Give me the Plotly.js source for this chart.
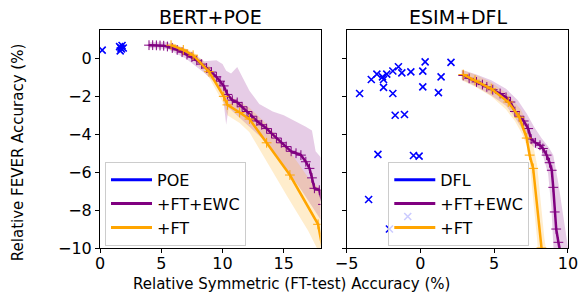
<!DOCTYPE html>
<html>
<head>
<meta charset="utf-8">
<script src="https://cdn.plot.ly/plotly-3.0.1.min.js"></script>
<style>html,body{margin:0;padding:0;background:#fff;}#chart{width:583px;height:293px;}</style>
</head>
<body>
<div id="chart"></div>
<script>
// ---------- BERT+POE (left) ----------
const poeX = [0.18, 1.6, 1.75, 1.9, 1.65, 1.8, 1.7];
const poeY = [0.44, 0.62, 0.5, 0.55, 0.4, 0.68, 0.55];

const bertEwcX = [4.0, 4.3, 4.6, 4.9, 5.2, 5.5, 5.9, 6.3, 6.7, 7.1, 7.5, 7.9, 8.3, 8.7, 9.1, 9.5, 9.8, 10.1, 10.4, 10.8, 11.2, 11.6, 12.0, 12.4, 12.8, 13.2, 13.6, 14.0, 14.4, 14.8, 15.2, 15.6, 16.0, 16.4, 16.8, 17.1, 17.3, 17.5, 17.9, 18.2];
const bertEwcY = [0.70, 0.70, 0.69, 0.68, 0.67, 0.63, 0.55, 0.45, 0.33, 0.20, 0.07, -0.10, -0.30, -0.50, -0.72, -0.97, -1.20, -1.45, -1.90, -2.20, -2.32, -2.55, -2.80, -3.05, -3.30, -3.50, -3.70, -3.95, -4.20, -4.45, -4.65, -4.90, -5.00, -5.10, -5.45, -5.80, -6.30, -6.85, -6.95, -7.70];
const bertEwcUpX = [4.0, 5.5, 7.0, 8.5, 9.5, 10.0, 10.3, 10.7, 11.2, 12.2, 13.0, 14.1, 15.0, 15.8, 16.8, 17.3, 17.6, 18.0, 18.3];
const bertEwcUpY = [0.85, 0.85, 0.5, -0.15, -0.1, -0.3, -0.65, -0.8, -0.45, -1.7, -2.4, -2.8, -3.0, -3.25, -3.6, -3.8, -4.9, -5.2, -5.5];
const bertEwcLoX = [4.0, 5.5, 7.0, 8.5, 9.5, 10.0, 10.3, 10.5, 11.0, 12.2, 13.2, 14.2, 15.5, 16.5, 17.2, 18.0, 18.3];
const bertEwcLoY = [0.55, 0.5, 0.0, -0.75, -1.35, -1.8, -3.5, -2.6, -2.9, -3.6, -4.2, -5.0, -6.1, -7.0, -7.7, -8.5, -8.8];

const bertFtX = [5.8, 6.8, 7.6, 8.9, 10.1, 10.4, 11.4, 12.2, 13.6, 15.5, 17.8, 18.3];
const bertFtY = [0.70, 0.45, 0.17, -0.70, -2.00, -2.45, -2.85, -3.20, -4.45, -6.15, -8.75, -10.5];
const bertFtUpX = [5.8, 7.6, 8.9, 10.1, 10.4, 11.4, 12.2, 13.5, 15.5, 17.0, 18.0, 18.3];
const bertFtUpY = [0.85, 0.35, -0.4, -1.6, -1.9, -2.3, -2.6, -3.4, -4.9, -6.3, -6.9, -7.2];
const bertFtLoX = [5.8, 7.6, 8.9, 10.1, 10.4, 11.4, 12.2, 13.4, 15.3, 17.0, 17.7, 18.3];
const bertFtLoY = [0.5, -0.05, -1.0, -2.4, -3.0, -3.4, -3.9, -5.2, -7.3, -9.1, -10.0, -10.8];

// ---------- ESIM+DFL (right) ----------
const dflX = [-4.12, -3.33, -2.95, -2.57, -2.5, -2.28, -1.87, -1.49, -1.26, -0.65, 0.16, 0.32, 2.07, 1.4, 1.22, 0.16, -2.5, -1.87, -1.71, -1.08, -2.88, -0.47, -0.09, -3.51, -0.86, -2.1];
const dflY = [-1.85, -1.11, -0.83, -0.97, -1.11, -0.83, -0.66, -0.44, -0.76, -0.71, -0.67, -0.18, -0.21, -0.97, -1.8, -1.5, -1.53, -1.85, -3.0, -2.96, -5.06, -5.12, -5.15, -7.44, -8.34, -9.0];

const esimEwcX = [2.9, 3.3, 3.8, 4.2, 4.5, 4.9, 5.4, 5.8, 6.1, 6.4, 6.7, 7.0, 7.3, 7.5, 7.8, 8.1, 8.3, 8.55, 8.75, 8.9, 9.0, 9.1, 9.2, 9.35, 9.5];
const esimEwcY = [-0.9, -1.05, -1.24, -1.38, -1.5, -1.65, -1.85, -2.05, -2.3, -2.8, -3.05, -3.3, -3.7, -4.25, -4.45, -4.58, -4.75, -5.1, -5.5, -5.9, -6.8, -8.1, -9.0, -9.7, -10.3];
const esimEwcUpX = [2.8, 3.8, 4.8, 5.8, 6.6, 7.2, 7.7, 8.2, 8.7, 9.0, 9.35, 9.9, 10.1];
const esimEwcUpY = [-0.6, -0.85, -1.15, -1.6, -2.2, -2.9, -3.6, -4.2, -4.7, -5.1, -6.6, -9.6, -10.5];
const esimEwcLoX = [2.8, 3.8, 4.8, 5.8, 6.3, 6.8, 7.3, 7.7, 8.2, 8.65, 8.87, 8.99, 9.05];
const esimEwcLoY = [-1.1, -1.5, -1.95, -2.5, -3.0, -3.6, -4.4, -4.7, -4.85, -6.07, -7.85, -9.6, -10.5];

const esimFtX = [2.9, 3.7, 4.8, 5.95, 6.7, 7.2, 7.4, 7.64, 8.2, 8.3];
const esimFtY = [-0.85, -1.15, -1.6, -2.3, -3.1, -4.2, -5.1, -5.8, -10.0, -10.7];
const esimFtUpX = [2.8, 3.7, 4.8, 5.95, 6.8, 7.3, 7.6, 7.9, 8.4, 8.6];
const esimFtUpY = [-0.6, -0.85, -1.25, -1.9, -2.7, -3.5, -4.4, -5.6, -9.5, -10.5];
const esimFtLoX = [2.8, 3.7, 4.8, 5.8, 6.4, 6.9, 7.2, 7.4, 7.9, 8.0];
const esimFtLoY = [-1.15, -1.5, -2.0, -2.7, -3.3, -4.0, -4.6, -5.5, -9.5, -10.5];

// ---------- labels ----------
const panelTitles = ["BERT+POE", "ESIM+DFL"];
const legendLeft = ["POE", "+FT+EWC", "+FT"];
const legendRight = ["DFL", "+FT+EWC", "+FT"];
const xTicksLeft = [0, 5, 10, 15];
const xTicksRight = [-5, 0, 5, 10];
const yTicks = [0, -2, -4, -6, -8, -10];
const xAxisTitle = "Relative Symmetric (FT-test) Accuracy (%)";
const yAxisTitle = "Relative FEVER Accuracy (%)";

const BLUE = "#0000ff", PURPLE = "#800080", ORANGE = "#ffa500";
const PURPLE_F = "rgba(128,0,128,0.2)", ORANGE_F = "rgba(255,165,0,0.2)";

function band(upX, upY, loX, loY, color, xa, ya) {
  return {
    x: upX.concat(loX.slice().reverse()),
    y: upY.concat(loY.slice().reverse()),
    xaxis: xa, yaxis: ya, type: "scatter", mode: "lines",
    fill: "toself", fillcolor: color, line: {width: 0, color: "rgba(0,0,0,0)"},
    hoverinfo: "skip", showlegend: false
  };
}
function curve(x, y, color, xa, ya) {
  return {
    x: x, y: y, xaxis: xa, yaxis: ya, type: "scatter", mode: "lines+markers",
    line: {color: color, width: 2.5},
    marker: {symbol: "cross-thin-open", size: 7, color: color, line: {color: color, width: 1}},
    showlegend: false
  };
}
function scat(x, y, xa, ya) {
  return {
    x: x, y: y, xaxis: xa, yaxis: ya, type: "scatter", mode: "markers",
    marker: {symbol: "x-thin-open", size: 7, color: BLUE, line: {color: BLUE, width: 1.6}},
    showlegend: false
  };
}
function legItem(name, color, leg, xa, ya) {
  return {
    x: [null], y: [null], xaxis: xa, yaxis: ya, type: "scatter", mode: "lines",
    name: name, line: {color: color, width: 3}, legend: leg, showlegend: true
  };
}

const data = [
  band(bertEwcUpX, bertEwcUpY, bertEwcLoX, bertEwcLoY, PURPLE_F, "x", "y"),
  band(bertFtUpX, bertFtUpY, bertFtLoX, bertFtLoY, ORANGE_F, "x", "y"),
  scat(poeX, poeY, "x", "y"),
  curve(bertEwcX, bertEwcY, PURPLE, "x", "y"),
  curve(bertFtX, bertFtY, ORANGE, "x", "y"),
  band(esimEwcUpX, esimEwcUpY, esimEwcLoX, esimEwcLoY, PURPLE_F, "x2", "y2"),
  band(esimFtUpX, esimFtUpY, esimFtLoX, esimFtLoY, ORANGE_F, "x2", "y2"),
  scat(dflX, dflY, "x2", "y2"),
  curve(esimEwcX, esimEwcY, PURPLE, "x2", "y2"),
  curve(esimFtX, esimFtY, ORANGE, "x2", "y2"),
  legItem(legendLeft[0], BLUE, "legend", "x", "y"),
  legItem(legendLeft[1], PURPLE, "legend", "x", "y"),
  legItem(legendLeft[2], ORANGE, "legend", "x", "y"),
  legItem(legendRight[0], BLUE, "legend2", "x2", "y2"),
  legItem(legendRight[1], PURPLE, "legend2", "x2", "y2"),
  legItem(legendRight[2], ORANGE, "legend2", "x2", "y2")
];

const FONT = "DejaVu Sans, sans-serif";
const axisCommon = {
  showgrid: false, zeroline: false, showline: true, linecolor: "#000", linewidth: 1,
  mirror: true, ticks: "outside", ticklen: 4, tickwidth: 1, tickcolor: "#000",
  tickfont: {family: FONT, size: 16, color: "#000"}
};
const legCommon = {
  font: {family: FONT, size: 16, color: "#000"},
  bgcolor: "rgba(255,255,255,0.8)", bordercolor: "#cccccc", borderwidth: 1,
  xanchor: "left", yanchor: "top", itemwidth: 41, traceorder: "normal"
};

const layout = {
  width: 583, height: 293,
  margin: {l: 100, r: 15, t: 30, b: 45},
  paper_bgcolor: "#fff", plot_bgcolor: "#fff",
  font: {family: FONT, color: "#000"},
  xaxis: Object.assign({}, axisCommon, {domain: [0, 0.4712], range: [0, 18], tickvals: xTicksLeft, anchor: "y", ticklabelstandoff: -3}),
  yaxis: Object.assign({}, axisCommon, {range: [-10, 1.5], tickvals: yTicks, anchor: "x"}),
  xaxis2: Object.assign({}, axisCommon, {domain: [0.527, 1], range: [-5, 10], tickvals: xTicksRight, anchor: "y2", ticklabelstandoff: -3}),
  yaxis2: Object.assign({}, axisCommon, {range: [-10, 1.5], tickvals: yTicks, anchor: "x2", matches: "y", showticklabels: false}),
  legend: Object.assign({}, legCommon, {x: 0.0107, y: 0.395}),
  legend2: Object.assign({}, legCommon, {x: 0.616, y: 0.395}),
  annotations: [
    {text: panelTitles[0], xref: "paper", yref: "paper", x: 0.2356, y: 1, xanchor: "center", yanchor: "bottom", yshift: 0, showarrow: false, font: {family: FONT, size: 19, color: "#000"}},
    {text: panelTitles[1], xref: "paper", yref: "paper", x: 0.767, y: 1, xanchor: "center", yanchor: "bottom", yshift: 0, showarrow: false, font: {family: FONT, size: 19, color: "#000"}},
    {text: xAxisTitle, xref: "paper", yref: "paper", x: 0.409, y: -0.167, xanchor: "center", yanchor: "middle", showarrow: false, font: {family: FONT, size: 15, color: "#000"}},
    {text: yAxisTitle, xref: "paper", yref: "paper", x: -0.175, y: 0.44, xanchor: "center", yanchor: "middle", textangle: -90, showarrow: false, font: {family: FONT, size: 15, color: "#000"}}
  ],
  showlegend: true
};

Plotly.newPlot("chart", data, layout, {staticPlot: true, displayModeBar: false});
</script>
</body>
</html>
